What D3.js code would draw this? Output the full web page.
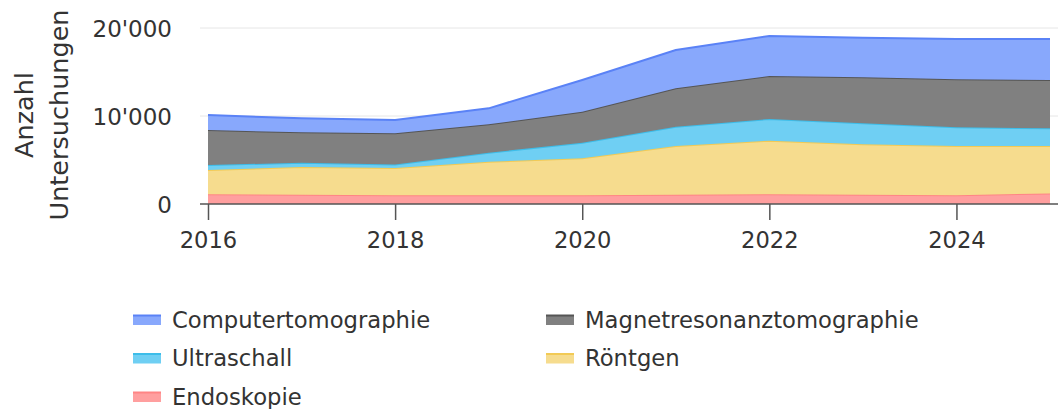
<!DOCTYPE html>
<html>
<head>
<meta charset="utf-8">
<script src="https://cdn.jsdelivr.net/npm/d3@7"></script>
<style>
  body { margin: 0; background: #fff; }
  text { font-family: "DejaVu Sans", sans-serif; fill: #333; }
</style>
</head>
<body>
<svg id="chart" width="1058" height="409"></svg>
<script>
// data
const years = [2016, 2017, 2018, 2019, 2020, 2021, 2022, 2023, 2024, 2025]
const endoskopie = [1100, 1050, 1000, 1000, 1000, 1050, 1100, 1050, 1000, 1200]
const roentgen = [2750, 3150, 3100, 3800, 4200, 5550, 6100, 5750, 5600, 5400]
const ultraschall = [570, 500, 400, 1030, 1770, 2180, 2460, 2370, 2110, 2000]
const mrt = [3980, 3450, 3530, 3230, 3520, 4370, 4890, 5230, 5460, 5490]
const ct = [1700, 1590, 1520, 1810, 3600, 4350, 4540, 4500, 4580, 4660]
const yTicks = [0, 10000, 20000]
const xTicks = [2016, 2018, 2020, 2022, 2024]

const seriesNames = ["Endoskopie", "Röntgen", "Ultraschall", "Magnetresonanztomographie", "Computertomographie"]
const seriesValues = [endoskopie, roentgen, ultraschall, mrt, ct]
const fills = ["#ff9f9f", "#f6dc8e", "#6fcff3", "#808080", "#88a8fc"]
const strokes = ["#ff8585", "#f2ca55", "#3dbde9", "#555555", "#5a82f6"]

const svg = d3.select("#chart")

const rows = years.map((y, i) => {
  const r = { year: y }
  seriesNames.forEach((n, k) => r[n] = seriesValues[k][i])
  return r
})
const stacked = d3.stack().keys(seriesNames)(rows)

const x = d3.scaleLinear().domain([2016, 2025]).range([208, 1050])
const y = d3.scaleLinear().domain([0, 20000]).range([204, 28])

// grid
svg.append("g").selectAll("line")
  .data(yTicks.filter(d => d > 0))
  .enter().append("line")
  .attr("x1", 200).attr("x2", 1058)
  .attr("y1", d => y(d)).attr("y2", d => y(d))
  .attr("stroke", "#e6e6e6").attr("stroke-width", 1)

const area = d3.area()
  .x(d => x(d.data.year))
  .y0(d => y(d[0]))
  .y1(d => y(d[1]))
const line = d3.line()
  .x(d => x(d.data.year))
  .y(d => y(d[1]))

const layers = svg.append("g").selectAll("g")
  .data(stacked)
  .enter().append("g")
layers.append("path")
  .attr("d", area)
  .attr("fill", (d, i) => fills[i])
layers.append("path")
  .attr("d", line)
  .attr("fill", "none")
  .attr("stroke", (d, i) => strokes[i])
  .attr("stroke-width", 2)

// x axis
const xAxis = svg.append("g")
  .attr("transform", "translate(0,204)")
  .call(d3.axisBottom(x).tickValues(xTicks).tickFormat(d3.format("d")).tickSize(16).tickSizeOuter(0))
xAxis.select(".domain").remove()
xAxis.append("line").attr("x1", 200).attr("x2", 1058).attr("stroke", "#555").attr("stroke-width", 1.5)
xAxis.selectAll(".tick line").attr("stroke", "#555").attr("stroke-width", 1.5)
xAxis.selectAll(".tick text").attr("y", 28).attr("dy", "0.71em")
  .style("font-size", "22.6px").style("font-family", "DejaVu Sans").attr("fill", "#333")

// y axis labels
const fmt = d => d3.format(",")(d).replace(/,/g, "'")
const yAxis = svg.append("g")
  .attr("transform", "translate(172,0)")
  .call(d3.axisLeft(y).tickValues(yTicks).tickFormat(fmt).tickSize(0))
yAxis.select(".domain").remove()
yAxis.selectAll(".tick text").attr("x", 0).attr("dy", "0.35em")
  .style("font-size", "23px").style("font-family", "DejaVu Sans").attr("fill", "#333")

// y title
const title = svg.append("text")
  .attr("transform", "translate(0,115) rotate(-90)")
  .attr("text-anchor", "middle")
  .style("font-size", "25.5px")
title.append("tspan").attr("x", 0).attr("y", 33).text("Anzahl")
title.append("tspan").attr("x", 0).attr("y", 68).text("Untersuchungen")

// legend
const legendOrder = ["Computertomographie", "Magnetresonanztomographie", "Ultraschall", "Röntgen", "Endoskopie"]
const legend = svg.append("g").selectAll("g")
  .data(legendOrder)
  .enter().append("g")
  .attr("transform", (d, i) => "translate(" + (i % 2 ? 546 : 133) + "," + (320 + Math.floor(i / 2) * 38.5) + ")")
legend.append("rect")
  .attr("x", 0).attr("y", -5).attr("width", 28).attr("height", 10)
  .attr("fill", d => fills[seriesNames.indexOf(d)])
legend.append("line")
  .attr("x1", 0).attr("x2", 28).attr("y1", -4.5).attr("y2", -4.5)
  .attr("stroke", d => strokes[seriesNames.indexOf(d)]).attr("stroke-width", 2)
legend.append("text")
  .attr("x", 39).attr("dy", "0.35em")
  .style("font-size", "22.7px")
  .text(d => d)
</script>
</body>
</html>
